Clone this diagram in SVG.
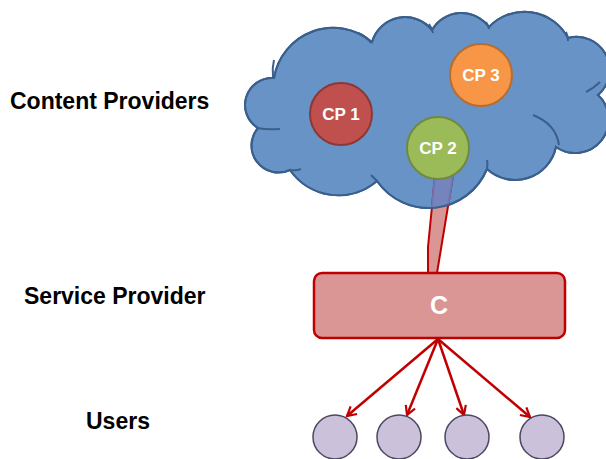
<svg xmlns="http://www.w3.org/2000/svg" width="606" height="459" viewBox="0 0 606 459">
<style>
.lbl{font-family:"Liberation Sans",Arial,sans-serif;font-weight:bold;font-size:23px;fill:#000}
.cpt{font-family:"Liberation Sans",Arial,sans-serif;font-weight:bold;font-size:17px;fill:#fff;text-anchor:middle}
.user{fill:#ccc1da;stroke:#4d4762;stroke-width:1.5}
.arr{stroke:#c00000;stroke-width:2.5;fill:none;marker-end:url(#ah)}
.inner{fill:none;stroke:#3a5f8c;stroke-width:2}
</style>
<defs>
<path id="cloud" d="M258,128 A27,27 0 0 1 274,78 A60,60 0 0 1 372,42 A34.5,34.5 0 0 1 432,30 A34,34 0 0 1 489,27 A49,49 0 0 1 568,38 A33,33 0 0 1 598,95 A33.5,33.5 0 0 1 556,147 A41.7,41.7 0 0 1 487,169 A63,63 0 0 1 377,181 A59,59 0 0 1 290,170 A27,27 0 0 1 258,128 Z"/>
<clipPath id="cc"><use href="#cloud"/></clipPath>
<marker id="ah" viewBox="0 0 12 12" refX="10" refY="6" markerWidth="12" markerHeight="12" markerUnits="userSpaceOnUse" orient="auto">
<path d="M1,1 L10,6 L1,11" fill="none" stroke="#c00000" stroke-width="2.2"/>
</marker>
</defs>

<g id="labels">
<text class="lbl" x="10" y="109">Content Providers</text>
<text class="lbl" x="24" y="304">Service Provider</text>
<text class="lbl" x="86" y="429">Users</text>
</g>

<g id="cloud-node">
<use href="#cloud" fill="#6893c6" stroke="#3a5f8c" stroke-width="2"/>
<path class="inner" d="M358,33 Q366,36 371,43"/>
<path class="inner" d="M429,24 Q432,28 433,33"/>
<path class="inner" d="M486,22 Q488,25 489,29"/>
<path class="inner" d="M566,32 Q568,36 568,41"/>
<path class="inner" d="M586,92 Q594,88 600,82"/>
<path class="inner" d="M533,115 Q556,124 559,145"/>
<path class="inner" d="M487,169 Q488,164 487,160"/>
<path class="inner" d="M377,181 Q374,178 371,175"/>
<path class="inner" d="M290,170 Q296,171 301,169"/>
<path class="inner" d="M257,128 Q268,130 280,129"/>
<path class="inner" d="M273,77 Q272,68 274,60"/>
</g>

<g id="connectors">
<polygon points="435,176 453,176 437,273 428,273 428,247" fill="#d99694" stroke="#c00000" stroke-width="2" stroke-linejoin="round"/>
<polygon points="435,176 453,176 437,273 428,273 428,247" fill="#7584bd" stroke="#6a78b4" stroke-width="2" clip-path="url(#cc)"/>
<path d="M258,128 A27,27 0 0 1 274,78 A60,60 0 0 1 372,42 A34.5,34.5 0 0 1 432,30 A34,34 0 0 1 489,27 A49,49 0 0 1 568,38 A33,33 0 0 1 598,95 A33.5,33.5 0 0 1 556,147 A41.7,41.7 0 0 1 487,169 A63,63 0 0 1 377,181 A59,59 0 0 1 290,170 A27,27 0 0 1 258,128 Z" fill="none" stroke="#3a5f8c" stroke-width="2"/>
<line class="arr" x1="438" y1="339" x2="347" y2="416"/>
<line class="arr" x1="438" y1="339" x2="407" y2="415"/>
<line class="arr" x1="438" y1="339" x2="464" y2="415"/>
<line class="arr" x1="438" y1="339" x2="530" y2="417"/>
</g>

<g id="cp1">
<circle cx="341" cy="114" r="31" fill="#c0504d" stroke="#8c3836" stroke-width="2"/>
<text class="cpt" x="341" y="120">CP 1</text>
</g>
<g id="cp3">
<circle cx="481" cy="75" r="31" fill="#f79646" stroke="#b66d31" stroke-width="2"/>
<text class="cpt" x="481" y="81">CP 3</text>
</g>
<g id="cp2">
<circle cx="438" cy="148" r="31" fill="#9bbb59" stroke="#71893f" stroke-width="2"/>
<text class="cpt" x="438" y="154">CP 2</text>
</g>

<g id="service">
<rect x="314" y="273" width="251" height="65" rx="8" fill="#d99694" stroke="#c00000" stroke-width="2.5"/>
<text x="439" y="314" font-family="Liberation Sans,Arial,sans-serif" font-weight="bold" font-size="25" fill="#fff" text-anchor="middle">C</text>
</g>

<g id="users">
<circle id="u1" class="user" cx="335" cy="437" r="22"/>
<circle id="u2" class="user" cx="399" cy="437" r="22"/>
<circle id="u3" class="user" cx="467" cy="437" r="22"/>
<circle id="u4" class="user" cx="542" cy="437" r="22"/>
</g>
</svg>
